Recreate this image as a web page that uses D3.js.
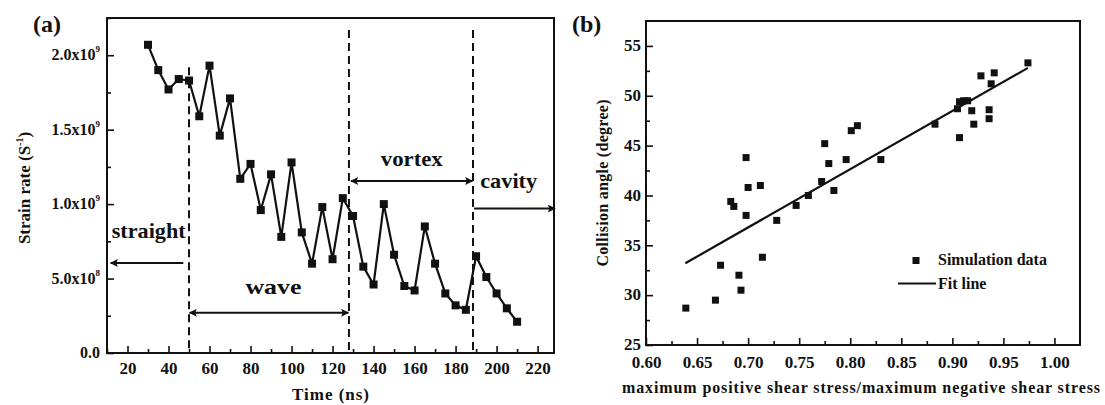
<!DOCTYPE html>
<html><head><meta charset="utf-8">
<script src="https://cdn.jsdelivr.net/npm/d3@7"></script>
<style>
html,body{margin:0;padding:0;background:#fff;}
svg{display:block;}
text{font-family:"Liberation Serif","Times New Roman",serif;font-weight:bold;fill:#111;}
</style></head>
<body>
<svg id="c" width="1105" height="405"></svg>
<script>
// ---------- Panel (a) data ----------
const aTime = [30,35,40,45,50,55,60,65,70,75,80,85,90,95,100,105,110,115,120,125,130,135,140,145,150,155,160,165,170,175,180,185,190,195,200,205,210];
const aRate = [2.07e9,1.90e9,1.77e9,1.84e9,1.83e9,1.59e9,1.93e9,1.46e9,1.71e9,1.17e9,1.27e9,0.96e9,1.20e9,0.78e9,1.28e9,0.81e9,0.60e9,0.98e9,0.63e9,1.04e9,0.92e9,0.58e9,0.46e9,1.00e9,0.66e9,0.45e9,0.42e9,0.85e9,0.60e9,0.40e9,0.32e9,0.29e9,0.65e9,0.51e9,0.40e9,0.30e9,0.21e9];
const aXTicks = [20,40,60,80,100,120,140,160,180,200,220];
const aYTicks = [0,0.5e9,1.0e9,1.5e9,2.0e9];
const aYTickMain = ["0.0","5.0x10","1.0x10","1.5x10","2.0x10"];
const aYTickSup  = ["","8","9","9","9"];
const phaseBounds = [50,128,188.5];
const phaseNames = ["straight","wave","vortex","cavity"];

// ---------- Panel (b) data ----------
const bRatio = [0.639,0.668,0.673,0.691,0.693,0.714,0.728,0.747,0.683,0.686,0.698,0.698,0.700,0.712,0.759,0.772,0.775,0.779,0.784,0.796,0.801,0.807,0.830,0.883,0.905,0.907,0.911,0.915,0.907,0.919,0.921,0.928,0.941,0.938,0.936,0.936,0.974];
const bAngle = [28.7,29.5,33.0,32.0,30.5,33.8,37.5,39.0,39.4,38.9,38.0,43.8,40.8,41.0,40.0,41.4,45.2,43.2,40.5,43.6,46.5,47.0,43.6,47.15,48.7,49.4,49.5,49.5,45.8,48.5,47.15,52.0,52.3,51.2,48.6,47.7,53.3];
const bFitX = [0.6385,0.974];
const bFitY = [33.2,52.8];
const bXTicks = [0.60,0.65,0.70,0.75,0.80,0.85,0.90,0.95,1.00];
const bYTicks = [25,30,35,40,45,50,55];
const bLegend = ["Simulation data","Fit line"];

const svg = d3.select("#c");
const defs = svg.append("defs");
function mk(id, orient){
  defs.append("marker").attr("id",id).attr("viewBox","0 0 10 10").attr("refX",9).attr("refY",5)
    .attr("markerWidth",10).attr("markerHeight",8).attr("markerUnits","userSpaceOnUse").attr("orient",orient)
    .append("path").attr("d","M0,0 L10,5 L0,10 L2,5 Z").attr("fill","#111");
}
mk("arr","auto"); mk("arrS","auto-start-reverse");

// ================= Panel (a) =================
const ax = d3.scaleLinear().domain([10,228]).range([107,554]);
const ay = d3.scaleLinear().domain([0,2.25e9]).range([353,18]);
const ga = svg.append("g");

const aXMinor = d3.range(10,229,10).filter(v=>!aXTicks.includes(v));
ga.append("g").attr("transform",`translate(0,${ay(0)})`)
  .call(d3.axisBottom(ax).tickValues(aXMinor).tickSize(-4).tickFormat(""))
  .call(g=>g.select(".domain").remove()).selectAll("line").attr("stroke","#111").attr("stroke-width",1.6);
const axA = ga.append("g").attr("transform",`translate(0,${ay(0)})`)
  .call(d3.axisBottom(ax).tickValues(aXTicks).tickSize(-7).tickPadding(0).tickFormat(d3.format("d")));
axA.select(".domain").remove();
axA.selectAll("line").attr("stroke","#111").attr("stroke-width",1.6);
axA.selectAll("text").attr("y",21).attr("dy",0).attr("font-size",17).attr("fill","#111");

const aYMinor = [0.25e9,0.75e9,1.25e9,1.75e9,2.25e9];
ga.append("g").attr("transform",`translate(${ax(10)},0)`)
  .call(d3.axisLeft(ay).tickValues(aYMinor).tickSize(-4).tickFormat(""))
  .call(g=>g.select(".domain").remove()).selectAll("line").attr("stroke","#111").attr("stroke-width",1.6);
const ayA = ga.append("g").attr("transform",`translate(${ax(10)},0)`)
  .call(d3.axisLeft(ay).tickValues(aYTicks).tickSize(-7).tickFormat(""));
ayA.select(".domain").remove();
ayA.selectAll("line").attr("stroke","#111").attr("stroke-width",1.6);
aYTicks.forEach((v,i)=>{
  const t = ga.append("text").attr("x",ax(10)-7).attr("y",ay(v)+5).attr("text-anchor","end").attr("font-size",16);
  t.append("tspan").text(aYTickMain[i]);
  if(aYTickSup[i]) t.append("tspan").attr("dy",-8).attr("font-size",9).text(aYTickSup[i]);
});

ga.append("rect").attr("x",ax(10)).attr("y",ay(2.25e9)).attr("width",ax(228)-ax(10)).attr("height",ay(0)-ay(2.25e9))
  .attr("fill","none").attr("stroke","#111").attr("stroke-width",2);

const dashTop = [1.92e9,2.17e9,2.17e9];
phaseBounds.forEach((b,i)=>{
  ga.append("line").attr("x1",ax(b)).attr("x2",ax(b)).attr("y1",ay(dashTop[i])).attr("y2",ay(0))
    .attr("stroke","#111").attr("stroke-width",2).attr("stroke-dasharray","8,5");
});

ga.append("path").datum(aTime.map((t,i)=>[t,aRate[i]]))
  .attr("d",d3.line().x(d=>ax(d[0])).y(d=>ay(d[1])))
  .attr("fill","none").attr("stroke","#111").attr("stroke-width",2.2);
ga.selectAll("rect.pt").data(aTime.map((t,i)=>[t,aRate[i]])).join("rect").attr("class","pt")
  .attr("x",d=>ax(d[0])-4).attr("y",d=>ay(d[1])-4).attr("width",8).attr("height",8).attr("fill","#111");

function arrow(x1,x2,y,both){
  const l = ga.append("line").attr("x1",ax(x1)).attr("x2",ax(x2)).attr("y1",ay(y)).attr("y2",ay(y))
    .attr("stroke","#111").attr("stroke-width",2).attr("marker-end","url(#arr)");
  if(both) l.attr("marker-start","url(#arrS)");
}
arrow(47.2,11.8,0.604e9,false);
arrow(50.3,127.7,0.27e9,true);
arrow(129,188.2,1.155e9,true);
arrow(189,228.5,0.97e9,false);
function lab(txt,x,y,len,fs){
  ga.append("text").attr("x",ax(x)).attr("y",ay(y)).attr("font-size",fs).attr("textLength",len)
    .attr("lengthAdjust","spacingAndGlyphs").attr("fill","#1a1a3a").text(txt);
}
lab(phaseNames[0],12.3,0.77e9,74,21);
lab(phaseNames[1],77.5,0.395e9,56,21);
lab(phaseNames[2],143.5,1.255e9,62,21);
lab(phaseNames[3],192,1.105e9,57,21);

svg.append("text").attr("x",33).attr("y",32).attr("font-size",24).text("(a)");
const ayt = svg.append("text").attr("transform","translate(30,188) rotate(-90)").attr("text-anchor","middle").attr("font-size",17);
ayt.append("tspan").text("Strain rate (S");
ayt.append("tspan").attr("dy",-7).attr("font-size",10).text("-1");
ayt.append("tspan").attr("dy",7).text(")");
svg.append("text").attr("x",(ax(10)+ax(228))/2).attr("y",400).attr("text-anchor","middle").attr("font-size",17)
  .attr("textLength",77).attr("lengthAdjust","spacing").text("Time (ns)");

// ================= Panel (b) =================
const bx = d3.scaleLinear().domain([0.6,1.025]).range([646,1080]);
const by = d3.scaleLinear().domain([25,57.5]).range([345,21]);
const gb = svg.append("g");

const bXMinor = d3.range(0.625,1.02,0.05);
gb.append("g").attr("transform",`translate(0,${by(25)})`)
  .call(d3.axisBottom(bx).tickValues(bXMinor).tickSize(-4).tickFormat(""))
  .call(g=>g.select(".domain").remove()).selectAll("line").attr("stroke","#111").attr("stroke-width",1.6);
const axB = gb.append("g").attr("transform",`translate(0,${by(25)})`)
  .call(d3.axisBottom(bx).tickValues(bXTicks).tickSize(-7).tickFormat(d3.format(".2f")));
axB.select(".domain").remove();
axB.selectAll("line").attr("stroke","#111").attr("stroke-width",1.6);
axB.selectAll("text").attr("y",23).attr("dy",0).attr("font-size",17).attr("fill","#111");

const bYMinor = d3.range(27.5,57.5,5);
gb.append("g").attr("transform",`translate(${bx(0.6)},0)`)
  .call(d3.axisLeft(by).tickValues(bYMinor).tickSize(-4).tickFormat(""))
  .call(g=>g.select(".domain").remove()).selectAll("line").attr("stroke","#111").attr("stroke-width",1.6);
const ayB = gb.append("g").attr("transform",`translate(${bx(0.6)},0)`)
  .call(d3.axisLeft(by).tickValues(bYTicks).tickSize(-7).tickFormat(d3.format("d")));
ayB.select(".domain").remove();
ayB.selectAll("line").attr("stroke","#111").attr("stroke-width",1.6);
ayB.selectAll("text").attr("x",-5).attr("dy","0.28em").attr("font-size",17).attr("fill","#111");

gb.append("rect").attr("x",bx(0.6)).attr("y",by(57.5)).attr("width",bx(1.025)-bx(0.6)).attr("height",by(25)-by(57.5))
  .attr("fill","none").attr("stroke","#111").attr("stroke-width",2);

gb.append("line").attr("x1",bx(bFitX[0])).attr("y1",by(bFitY[0])).attr("x2",bx(bFitX[1])).attr("y2",by(bFitY[1]))
  .attr("stroke","#111").attr("stroke-width",2.2);
gb.selectAll("rect.pt").data(bRatio.map((r,i)=>[r,bAngle[i]])).join("rect").attr("class","pt")
  .attr("x",d=>bx(d[0])-3.5).attr("y",d=>by(d[1])-3.5).attr("width",7).attr("height",7).attr("fill","#111");

gb.append("rect").attr("x",912.5).attr("y",257).attr("width",7).attr("height",7).attr("fill","#111");
gb.append("text").attr("x",938).attr("y",265).attr("font-size",16).text(bLegend[0]);
gb.append("line").attr("x1",898).attr("x2",936).attr("y1",283.5).attr("y2",283.5).attr("stroke","#111").attr("stroke-width",2.2);
gb.append("text").attr("x",938).attr("y",289).attr("font-size",16).text(bLegend[1]);

svg.append("text").attr("x",572).attr("y",32).attr("font-size",24).text("(b)");
svg.append("text").attr("transform","translate(608,183) rotate(-90)").attr("text-anchor","middle").attr("font-size",16)
  .attr("textLength",167).attr("lengthAdjust","spacing").text("Collision angle (degree)");
svg.append("text").attr("x",861).attr("y",393).attr("text-anchor","middle").attr("font-size",16)
  .attr("textLength",478).attr("lengthAdjust","spacing").text("maximum positive shear stress/maximum negative shear stress");
</script>
</body></html>
